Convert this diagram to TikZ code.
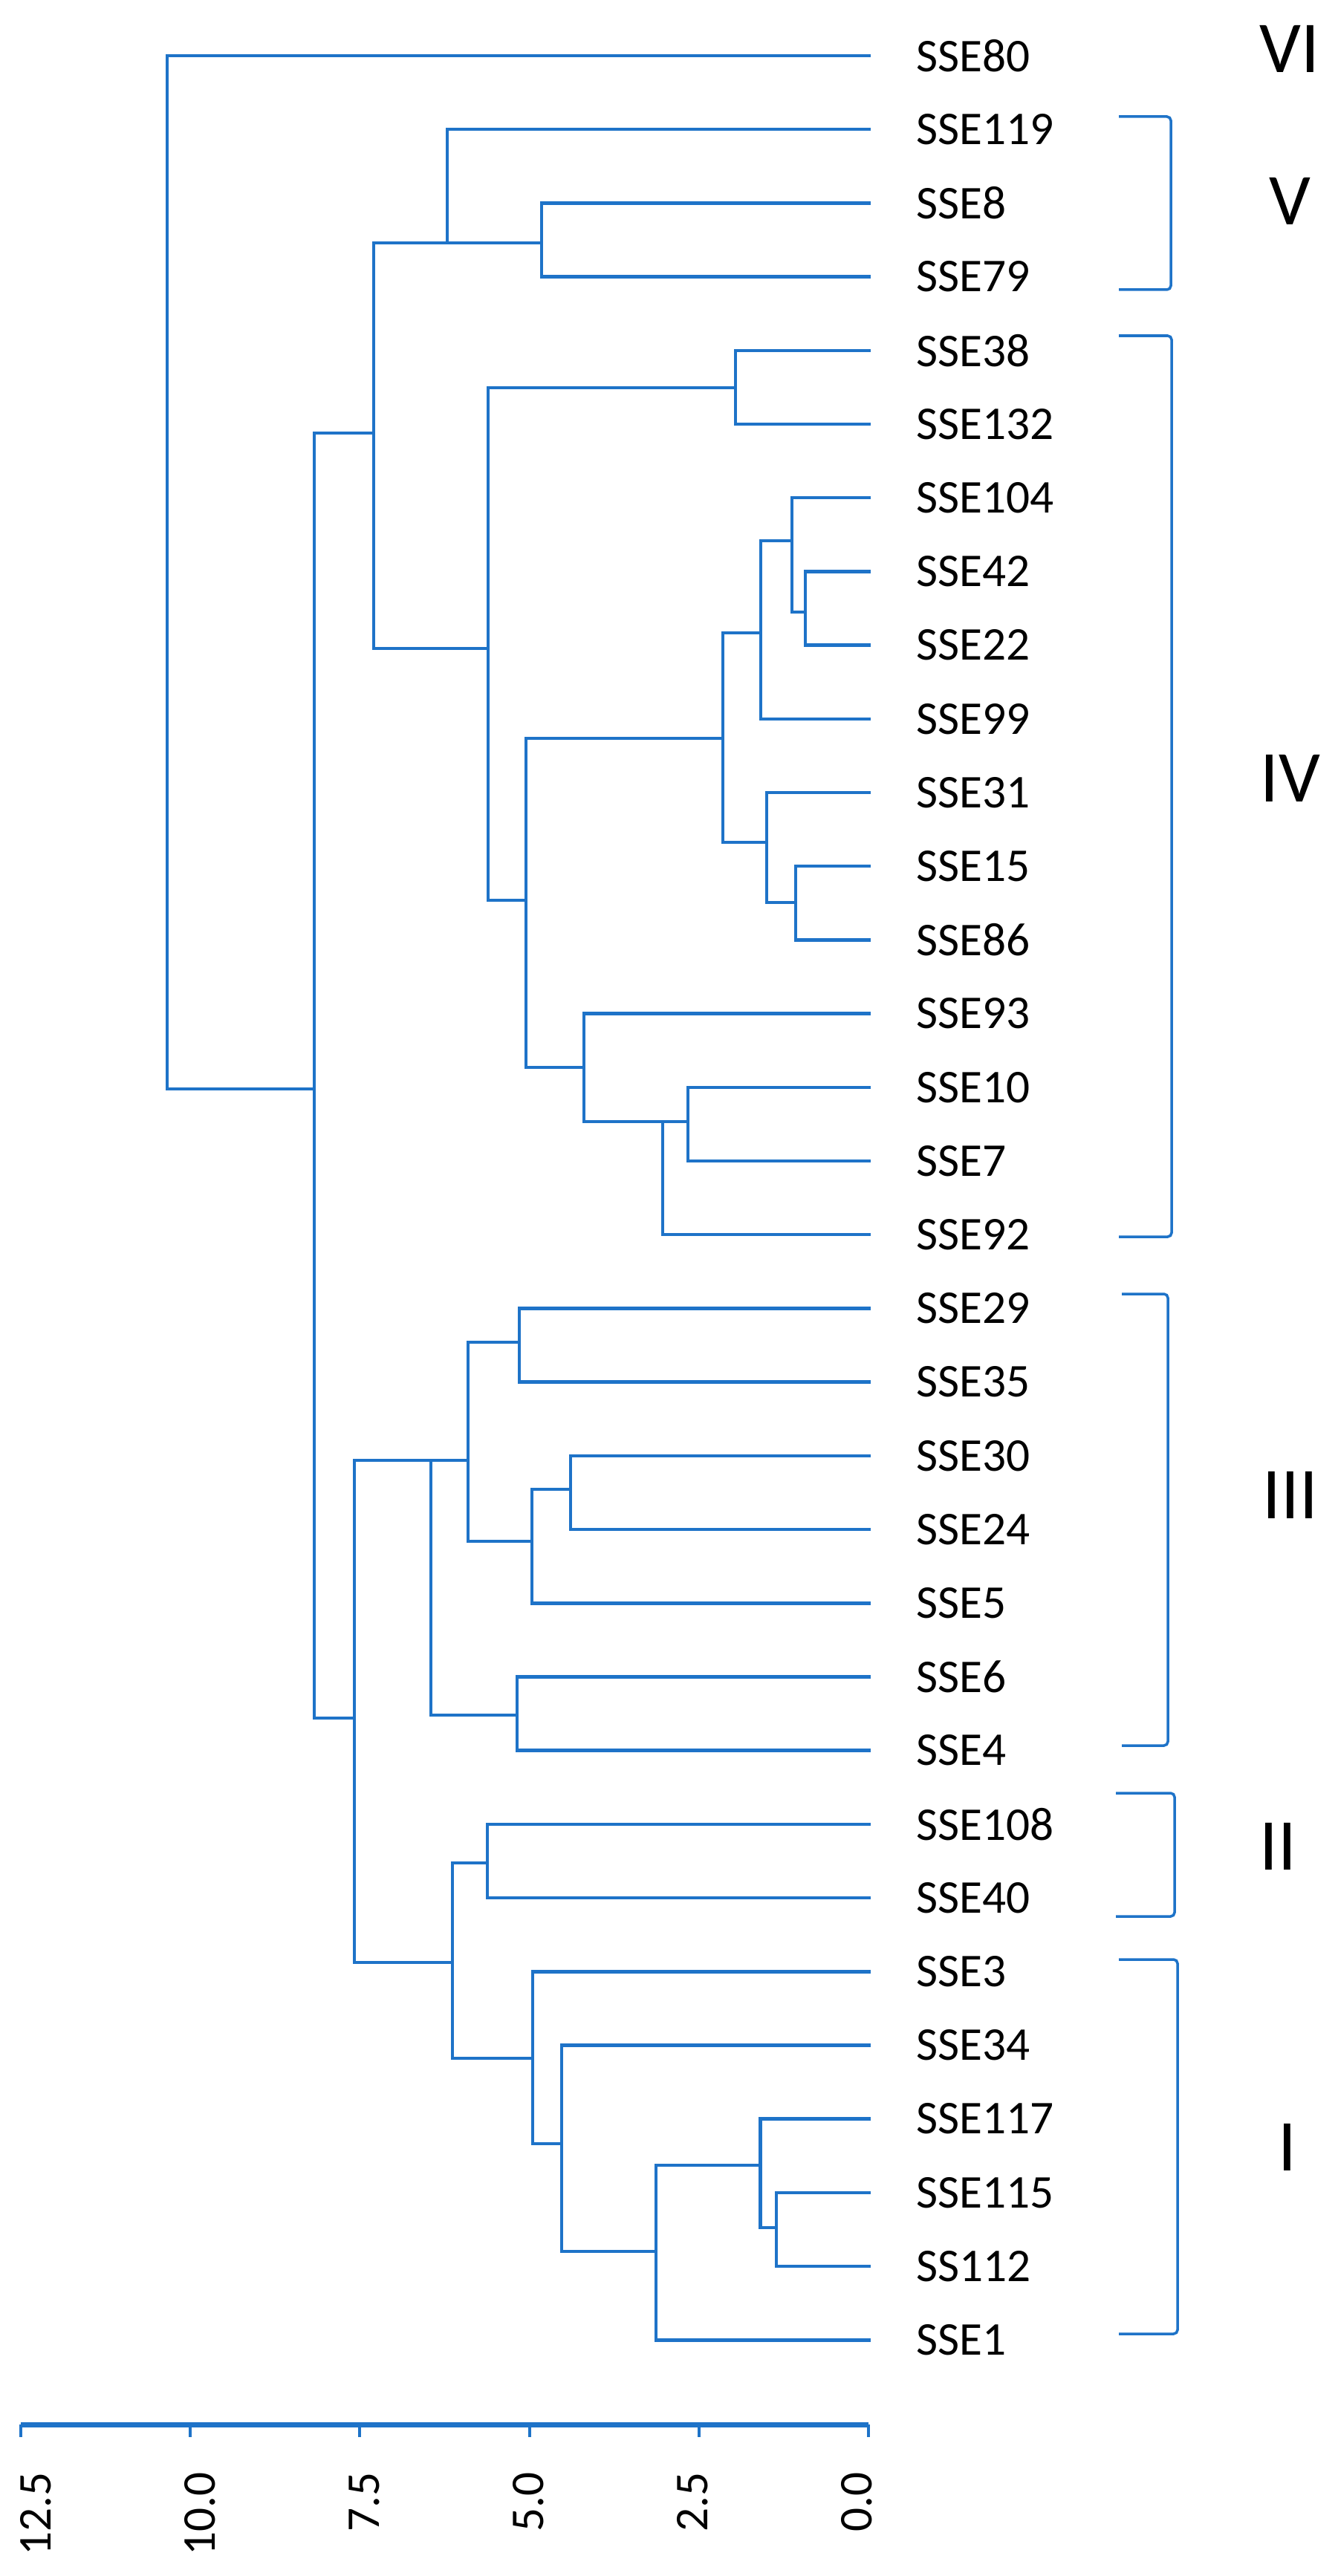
\documentclass[tikz,border=0pt]{standalone}
\usepackage{fontspec}
\setmainfont{Carlito}
\definecolor{dendro}{RGB}{30,115,200}
\begin{document}
\begin{tikzpicture}[
    leaf/.style={anchor=west,inner sep=0pt,font=\fontsize{18}{20}\selectfont},
    group/.style={inner sep=0pt,font=\fontsize{28}{30}\selectfont},
    scalelabel/.style={rotate=90,anchor=east,inner sep=0pt,font=\fontsize{18}{20}\selectfont},
    branch/.style={dendro,line width=1.3pt},
    brace/.style={dendro,line width=1pt,rounded corners=1.5pt}]
  \useasboundingbox (0,0) rectangle (18,-34.68);
  % leaf labels
  \draw
    (12.33,-0.750) node[leaf] (s0){SSE80}
    (12.33,-1.742) node[leaf] (s1){SSE119}
    (12.33,-2.734) node[leaf] (s2){SSE8}
    (12.33,-3.726) node[leaf] (s3){SSE79}
    (12.33,-4.718) node[leaf] (s4){SSE38}
    (12.33,-5.710) node[leaf] (s5){SSE132}
    (12.33,-6.702) node[leaf] (s6){SSE104}
    (12.33,-7.694) node[leaf] (s7){SSE42}
    (12.33,-8.686) node[leaf] (s8){SSE22}
    (12.33,-9.678) node[leaf] (s9){SSE99}
    (12.33,-10.670) node[leaf] (s10){SSE31}
    (12.33,-11.662) node[leaf] (s11){SSE15}
    (12.33,-12.654) node[leaf] (s12){SSE86}
    (12.33,-13.646) node[leaf] (s13){SSE93}
    (12.33,-14.638) node[leaf] (s14){SSE10}
    (12.33,-15.630) node[leaf] (s15){SSE7}
    (12.33,-16.622) node[leaf] (s16){SSE92}
    (12.33,-17.614) node[leaf] (s17){SSE29}
    (12.33,-18.606) node[leaf] (s18){SSE35}
    (12.33,-19.598) node[leaf] (s19){SSE30}
    (12.33,-20.590) node[leaf] (s20){SSE24}
    (12.33,-21.582) node[leaf] (s21){SSE5}
    (12.33,-22.574) node[leaf] (s22){SSE6}
    (12.33,-23.566) node[leaf] (s23){SSE4}
    (12.33,-24.558) node[leaf] (s24){SSE108}
    (12.33,-25.550) node[leaf] (s25){SSE40}
    (12.33,-26.542) node[leaf] (s26){SSE3}
    (12.33,-27.534) node[leaf] (s27){SSE34}
    (12.33,-28.526) node[leaf] (s28){SSE117}
    (12.33,-29.518) node[leaf] (s29){SSE115}
    (12.33,-30.510) node[leaf] (s30){SS112}
    (12.33,-31.502) node[leaf] (s31){SSE1};
  % leaf tips
  \path
    (11.72,-0.750) coordinate (t0)
    (11.72,-1.742) coordinate (t1)
    (11.72,-2.734) coordinate (t2)
    (11.72,-3.726) coordinate (t3)
    (11.72,-4.718) coordinate (t4)
    (11.72,-5.710) coordinate (t5)
    (11.72,-6.702) coordinate (t6)
    (11.72,-7.694) coordinate (t7)
    (11.72,-8.686) coordinate (t8)
    (11.72,-9.678) coordinate (t9)
    (11.72,-10.670) coordinate (t10)
    (11.72,-11.662) coordinate (t11)
    (11.72,-12.654) coordinate (t12)
    (11.72,-13.646) coordinate (t13)
    (11.72,-14.638) coordinate (t14)
    (11.72,-15.630) coordinate (t15)
    (11.72,-16.622) coordinate (t16)
    (11.72,-17.614) coordinate (t17)
    (11.72,-18.606) coordinate (t18)
    (11.72,-19.598) coordinate (t19)
    (11.72,-20.590) coordinate (t20)
    (11.72,-21.582) coordinate (t21)
    (11.72,-22.574) coordinate (t22)
    (11.72,-23.566) coordinate (t23)
    (11.72,-24.558) coordinate (t24)
    (11.72,-25.550) coordinate (t25)
    (11.72,-26.542) coordinate (t26)
    (11.72,-27.534) coordinate (t27)
    (11.72,-28.526) coordinate (t28)
    (11.72,-29.518) coordinate (t29)
    (11.72,-30.510) coordinate (t30)
    (11.72,-31.502) coordinate (t31);
  % merge points
  \path
    (2.25,-14.66) coordinate (root)
    (4.23,-14.66) coordinate (m1)
    (5.03,-5.83) coordinate (m2)
    (6.02,-3.27) coordinate (m3)
    (7.29,-3.27) coordinate (m4)
    (6.57,-8.73) coordinate (m5)
    (9.90,-5.22) coordinate (m6)
    (7.08,-12.12) coordinate (m7)
    (9.73,-9.94) coordinate (m8)
    (10.24,-8.52) coordinate (m9)
    (10.66,-7.28) coordinate (m10)
    (10.84,-8.24) coordinate (m11)
    (10.32,-11.34) coordinate (m12)
    (10.71,-12.15) coordinate (m13)
    (7.86,-14.37) coordinate (m14)
    (8.92,-15.10) coordinate (m15)
    (9.26,-15.10) coordinate (m16)
    (4.77,-23.13) coordinate (m17)
    (5.80,-19.66) coordinate (m18)
    (6.30,-19.66) coordinate (m19)
    (6.99,-18.07) coordinate (m20)
    (7.16,-20.75) coordinate (m21)
    (7.68,-20.05) coordinate (m22)
    (6.96,-23.09) coordinate (m23)
    (6.09,-26.42) coordinate (m24)
    (6.56,-25.08) coordinate (m25)
    (7.17,-27.71) coordinate (m26)
    (7.56,-28.86) coordinate (m27)
    (8.83,-30.31) coordinate (m28)
    (10.235,-29.15) coordinate (m29)
    (10.45,-29.99) coordinate (m30);
  \begin{scope}[branch]
    \draw (t0) -| (root) -- (m1);
    \draw (m2) -| (m1) |- (m17);
    \draw (m3) -| (m2) |- (m5);
    \draw (t1) -| (m3) -- (m4);
    \draw (t2) -| (m4) |- (t3);
    \draw (m6) -| (m5) |- (m7);
    \draw (t4) -| (m6) |- (t5);
    \draw (m8) -| (m7) |- (m14);
    \draw (m9) -| (m8) |- (m12);
    \draw (m10) -| (m9) |- (t9);
    \draw (t6) -| (m10) |- (m11);
    \draw (t7) -| (m11) |- (t8);
    \draw (t10) -| (m12) |- (m13);
    \draw (t11) -| (m13) |- (t12);
    \draw (t13) -| (m14) |- (m15);
    \draw (m16) -- (m15) |- (t16);
    \draw (t14) -| (m16) |- (t15);
    \draw (m18) -| (m17) |- (m24);
    \draw (m19) -- (m18) |- (m23);
    \draw (m20) -| (m19) |- (m21);
    \draw (t17) -| (m20) |- (t18);
    \draw (m22) -| (m21) |- (t21);
    \draw (t19) -| (m22) |- (t20);
    \draw (t22) -| (m23) |- (t23);
    \draw (m25) -| (m24) |- (m26);
    \draw (t24) -| (m25) |- (t25);
    \draw (t26) -| (m26) |- (m27);
    \draw (t27) -| (m27) |- (m28);
    \draw (m29) -| (m28) |- (t31);
    \draw (t28) -| (m29) |- (m30);
    \draw (t29) -| (m30) |- (t30);
  \end{scope}
  % distance scale
  \draw[dendro,line width=2pt] (0.28,-32.64) -- (11.69,-32.64);
  \draw[dendro,line width=0.9pt] (0.28,-32.64) -- ++(0,-0.17);
  \draw[dendro,line width=0.9pt] (2.56,-32.64) -- ++(0,-0.17);
  \draw[dendro,line width=0.9pt] (4.84,-32.64) -- ++(0,-0.17);
  \draw[dendro,line width=0.9pt] (7.13,-32.64) -- ++(0,-0.17);
  \draw[dendro,line width=0.9pt] (9.41,-32.64) -- ++(0,-0.17);
  \draw[dendro,line width=0.9pt] (11.69,-32.64) -- ++(0,-0.17);
  \node[scalelabel] (x0) at (0.48,-33.28) {12.5};
  \node[scalelabel] (x1) at (2.69,-33.28) {10.0};
  \node[scalelabel] (x2) at (4.90,-33.28) {7.5};
  \node[scalelabel] (x3) at (7.11,-33.28) {5.0};
  \node[scalelabel] (x4) at (9.32,-33.28) {2.5};
  \node[scalelabel] (x5) at (11.53,-33.28) {0.0};
  % group brackets
  \draw[brace] (15.06,-1.57) -| (15.76,-3.90) -- (15.06,-3.90);
  \draw[brace] (15.06,-4.52) -| (15.77,-16.65) -- (15.06,-16.65);
  \draw[brace] (15.10,-17.42) -| (15.72,-23.50) -- (15.10,-23.50);
  \draw[brace] (15.02,-24.14) -| (15.81,-25.80) -- (15.02,-25.80);
  \draw[brace] (15.06,-26.38) -| (15.85,-31.42) -- (15.06,-31.42);
  \node[group] (g6) at (17.36,-0.66) {VI};
  \node[group] (g5) at (17.36,-2.71) {V};
  \node[group] (g4) at (17.37,-10.48) {IV};
  \node[group] (g3) at (17.37,-20.13) {III};
  \node[group] (g2) at (17.20,-24.86) {II};
  \node[group] (g1) at (17.33,-28.91) {I};
\end{tikzpicture}
\end{document}
